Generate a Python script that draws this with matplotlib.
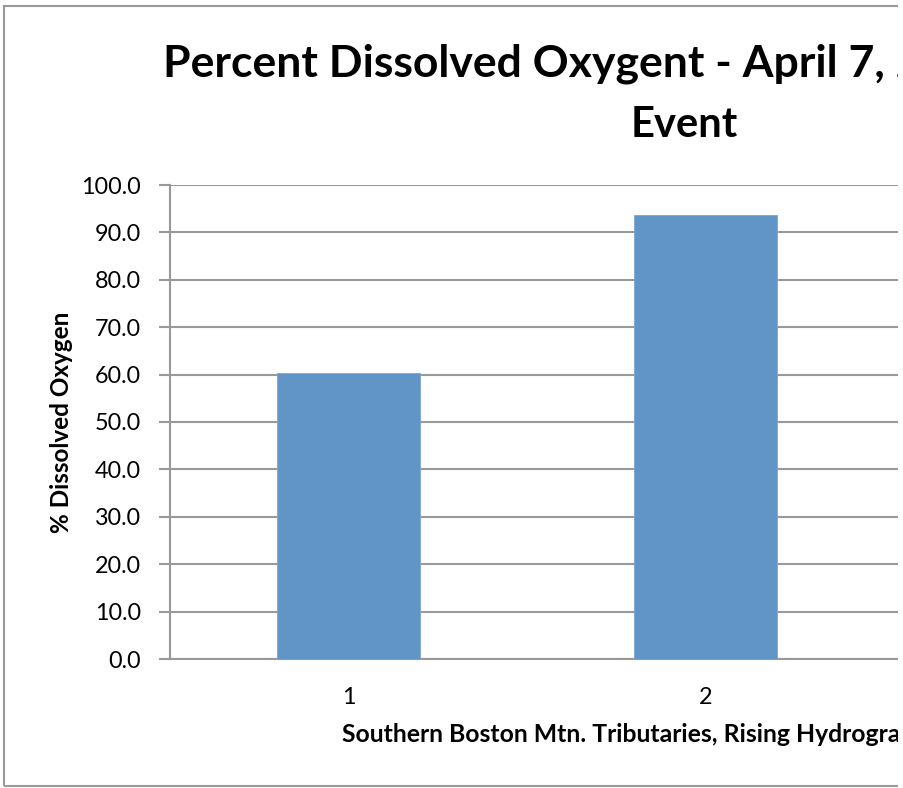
import matplotlib.pyplot as plt
from matplotlib.patches import Rectangle

plt.rcParams['font.family'] = ['Lato', 'DejaVu Sans']

# site number and percent dissolved oxygen
sites = [1, 2]
pct_do = [60.3, 93.6]
n_slots = 3  # the category axis holds three site slots
yticks = [0, 10, 20, 30, 40, 50, 60, 70, 80, 90, 100]

W, H = 904, 788
fig = plt.figure(figsize=(W / 100, H / 100), dpi=100)

# plot area in pixels: left 170, top 185, bottom 659, 357 px per category
ax = fig.add_axes([170 / W, (H - 659) / H, 357 * n_slots / W, (659 - 185) / H])
ax.bar(sites, pct_do, width=0.4, color='#6195C8', edgecolor='#7AA6D4', linewidth=0.6, zorder=3)

ax.set_xlim(0.5, n_slots + 0.5)
ax.set_ylim(0, 100)
ax.set_yticks(yticks)
ax.set_yticklabels([f'{v:.1f}' for v in yticks], fontsize=16.8)
ax.set_xticks(sites)
ax.set_xticklabels([str(s) for s in sites], fontsize=16.8)
ax.grid(axis='y', color='#999999', linewidth=1.5, zorder=0)
for side in ['top', 'right']:
    ax.spines[side].set_visible(False)
for side in ['left', 'bottom']:
    ax.spines[side].set_color('#999999')
    ax.spines[side].set_linewidth(1.5)
ax.tick_params(axis='y', length=8, width=1.5, color='#999999', pad=13)
ax.tick_params(axis='x', length=0, pad=20)

fig.text(62 / W, 1 - 422 / H, '% Dissolved Oxygen', fontsize=17.5, fontweight='bold',
         rotation=90, ha='center', va='center')

fig.text(163 / W, 1 - 77 / H, 'Percent Dissolved Oxygent - April 7, 2011 Storm',
         fontsize=32, fontweight='bold', ha='left', va='baseline')
fig.text(684 / W, 1 - 137 / H, 'Event', fontsize=30, fontweight='bold', ha='center', va='baseline')
fig.text(342 / W, 1 - 742 / H, 'Southern Boston Mtn. Tributaries, Rising Hydrograph',
         fontsize=17.8, fontweight='bold', ha='left', va='baseline')

# chart frame
fig.patches.append(Rectangle((4 / W, 2 / H), 1.2, 1 - 8 / H, transform=fig.transFigure,
                             fill=False, edgecolor='#999999', linewidth=1.5))
# blank strip on the right edge
fig.patches.append(Rectangle((898 / W, 0), 1, 1, transform=fig.transFigure,
                             facecolor='white', edgecolor='none', zorder=10))

fig.savefig('out.png', dpi=100)
